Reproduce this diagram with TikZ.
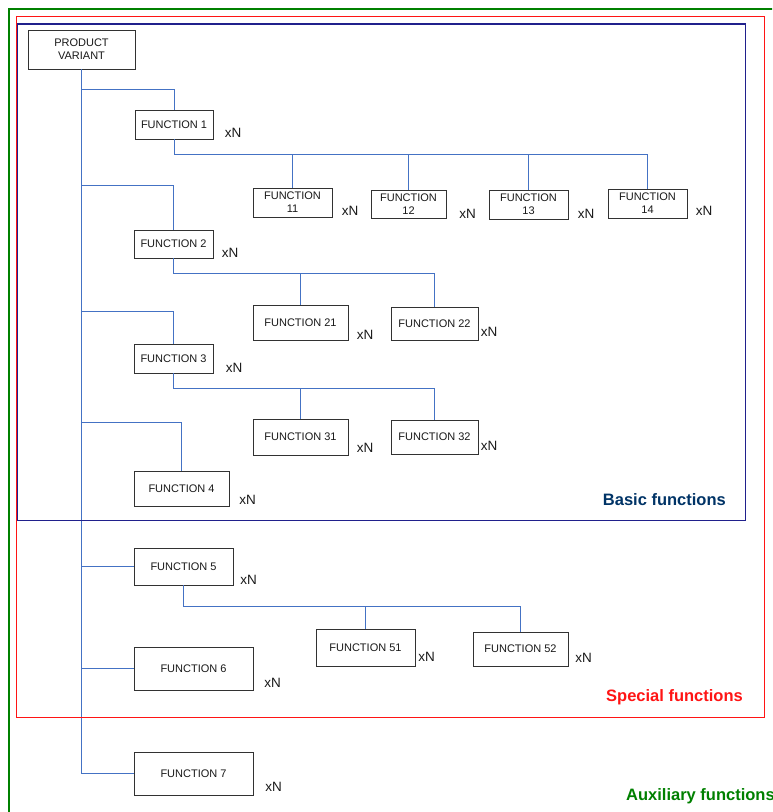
\documentclass[tikz,border=0pt]{standalone}
\usepackage{fontspec}
\setmainfont{Liberation Sans}
\usetikzlibrary{calc}
\definecolor{linkblue}{RGB}{68,114,196}
\definecolor{navyframe}{RGB}{32,32,140}
\definecolor{navytext}{RGB}{0,51,102}
\definecolor{redframe}{RGB}{255,20,20}
\definecolor{greenframe}{RGB}{0,128,0}
\definecolor{boxline}{RGB}{50,50,50}

\tikzset{
  fbox/.style 2 args={draw=boxline, line width=0.8pt, fill=white, align=center,
    inner sep=0pt, minimum width=#1, minimum height=#2,
    font=\fontsize{11}{13}\selectfont, text=black!90},
  link/.style={draw=linkblue, line width=0.9pt},
  xn/.style={font=\fontsize{13.5}{16}\selectfont, text=black!90},
  zone/.style={font=\bfseries\fontsize{16.5}{20}\selectfont, inner sep=0pt}
}

\begin{document}
\begin{tikzpicture}[x=1pt, y=-1pt]
    \clip (0,0) rectangle (772,812);

    % Product variant
    \node[fbox={107pt}{39pt}] (pv) at (81.5,49.5) {PRODUCT\\VARIANT};

    % Basic functions
    \node[fbox={78pt}{29pt}] (f1) at (174,124.5) {FUNCTION 1};
    \node[fbox={79pt}{29pt}] (f11) at (292.5,202.5) {FUNCTION\\11};
    \node[fbox={75pt}{28pt}] (f12) at (408.5,204) {FUNCTION\\12};
    \node[fbox={79pt}{29pt}] (f13) at (528.5,204.5) {FUNCTION\\13};
    \node[fbox={79pt}{29pt}] (f14) at (647.5,203.5) {FUNCTION\\14};
    \node[fbox={79pt}{28pt}] (f2) at (173.5,244) {FUNCTION 2};
    \node[fbox={95pt}{35pt}] (f21) at (300.5,322.5) {FUNCTION 21};
    \node[fbox={87pt}{33pt}] (f22) at (434.5,323.5) {FUNCTION 22};
    \node[fbox={79pt}{29pt}] (f3) at (173.5,358.5) {FUNCTION 3};
    \node[fbox={95pt}{36pt}] (f31) at (300.5,437) {FUNCTION 31};
    \node[fbox={87pt}{34pt}] (f32) at (434.5,437) {FUNCTION 32};
    \node[fbox={95pt}{35pt}] (f4) at (181.5,488.5) {FUNCTION 4};

    % Special functions
    \node[fbox={99pt}{37pt}] (f5) at (183.5,566.5) {FUNCTION 5};
    \node[fbox={99pt}{37pt}] (f51) at (365.5,647.5) {FUNCTION 51};
    \node[fbox={95pt}{34pt}] (f52) at (520.5,649) {FUNCTION 52};
    \node[fbox={119pt}{43pt}] (f6) at (193.5,668.5) {FUNCTION 6};

    % Auxiliary functions
    \node[fbox={119pt}{43pt}] (f7) at (193.5,773.5) {FUNCTION 7};

    % Multiplicity labels
    \node[xn] (x1) at (233,133) {xN};
    \node[xn] (x11) at (350,211) {xN};
    \node[xn] (x12) at (467.5,214) {xN};
    \node[xn] (x13) at (586,214) {xN};
    \node[xn] (x14) at (704,211) {xN};
    \node[xn] (x2) at (230,253) {xN};
    \node[xn] (x21) at (365,335) {xN};
    \node[xn] (x22) at (489,332) {xN};
    \node[xn] (x3) at (234,368) {xN};
    \node[xn] (x31) at (365,448) {xN};
    \node[xn] (x32) at (489,446) {xN};
    \node[xn] (x4) at (247.5,500) {xN};
    \node[xn] (x5) at (248.5,580) {xN};
    \node[xn] (x51) at (426.5,657) {xN};
    \node[xn] (x52) at (583.5,658) {xN};
    \node[xn] (x6) at (272.5,683) {xN};
    \node[xn] (x7) at (273.5,787) {xN};

    % Trunk and branches
    \coordinate (j1) at (0,89);
    \coordinate (j2) at (0,185);
    \coordinate (j3) at (0,311);
    \coordinate (j4) at (0,422);
    \draw[link] (pv.south) |- (f7.west);
    \draw[link] (pv.south |- j1) -| (f1.north);
    \draw[link] (pv.south |- j2) -| (f2.north);
    \draw[link] (pv.south |- j3) -| (f3.north);
    \draw[link] (pv.south |- j4) -| (f4.north);
    \draw[link] (pv.south |- f5.west) -- (f5.west);
    \draw[link] (pv.south |- f6.west) -- (f6.west);

    % Sub-functions
    \draw[link] (f1.south) -- ++(0,15) coordinate (b1) -| (f14.north);
    \draw[link] (b1 -| f11.north) -- (f11.north);
    \draw[link] (b1 -| f12.north) -- (f12.north);
    \draw[link] (b1 -| f13.north) -- (f13.north);
    \draw[link] (f2.south) -- ++(0,15) coordinate (b2) -| (f22.north);
    \draw[link] (b2 -| f21.north) -- (f21.north);
    \draw[link] (f3.south) -- ++(0,15) coordinate (b3) -| (f32.north);
    \draw[link] (b3 -| f31.north) -- (f31.north);
    \draw[link] (f5.south) -- ++(0,21) coordinate (b5) -| (f52.north);
    \draw[link] (b5 -| f51.north) -- (f51.north);

    % Frames
    \draw[greenframe, line width=1.7pt] (9,9) rectangle (800,840);
    \draw[redframe, line width=1.7pt] (16.5,16.5) rectangle (764.5,717.5);
    \draw[navyframe, line width=1.7pt] (17.5,24) rectangle (745.5,520.5);
    \node[zone, text=navytext, anchor=east] (basic) at (726,500) {Basic functions};
    \node[zone, text=redframe, anchor=east] (special) at (743,697) {Special functions};
    \node[zone, text=greenframe, anchor=west] (aux) at (626,796) {Auxiliary functions};
\end{tikzpicture}
\end{document}
